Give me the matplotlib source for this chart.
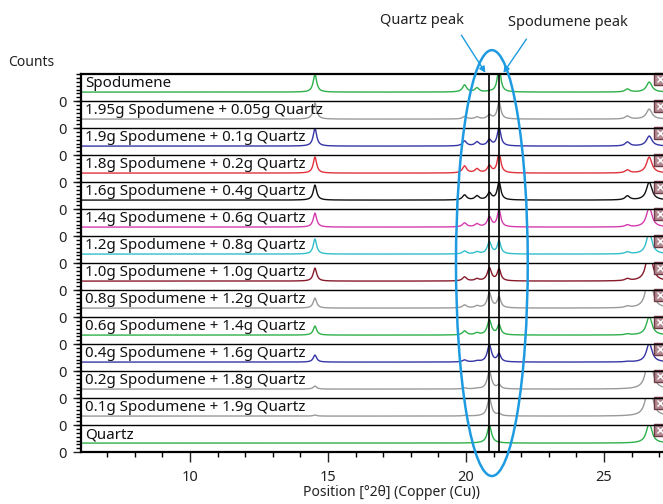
import matplotlib.pyplot as plt
import matplotlib.transforms as mtransforms
import numpy as np
from matplotlib.patches import Ellipse, FancyArrowPatch
from matplotlib.ticker import MultipleLocator, FixedLocator

plt.rcParams['font.family'] = ['Noto Sans', 'DejaVu Sans']

# --- sample patterns (top to bottom) ---
labels = [
    'Spodumene',
    '1.95g Spodumene + 0.05g Quartz',
    '1.9g Spodumene + 0.1g Quartz',
    '1.8g Spodumene + 0.2g Quartz',
    '1.6g Spodumene + 0.4g Quartz',
    '1.4g Spodumene + 0.6g Quartz',
    '1.2g Spodumene + 0.8g Quartz',
    '1.0g Spodumene + 1.0g Quartz',
    '0.8g Spodumene + 1.2g Quartz',
    '0.6g Spodumene + 1.4g Quartz',
    '0.4g Spodumene + 1.6g Quartz',
    '0.2g Spodumene + 1.8g Quartz',
    '0.1g Spodumene + 1.9g Quartz',
    'Quartz',
]
colors = ['#2eb04a', '#9a9a9a', '#3535a5', '#e0323c', '#111111', '#d43cae',
          '#30bfca', '#861a2a', '#9a9a9a', '#2eb04a', '#3535a5', '#9a9a9a',
          '#9a9a9a', '#2eb04a']

# peak positions [°2θ] and widths (FWHM)
peak_pos = [14.53, 19.95, 20.40, 20.85, 21.20, 25.85, 26.64]
peak_fwhm = [0.15, 0.18, 0.18, 0.18, 0.15, 0.20, 0.24]

# peak heights above baseline for each sample (panel = 27 units tall)
heights = [
    [18, 7, 4, 0.5, 25, 3, 10],
    [16, 2.5, 2, 4, 17, 3, 10],
    [18, 5, 4, 6, 19, 4, 10],
    [16, 7, 4, 7, 20, 3, 16],
    [15, 5, 4, 7, 18, 4, 18],
    [14, 4, 3, 10, 17, 2, 20],
    [15, 3, 2, 12, 13, 2, 22],
    [13, 4, 2, 13, 12, 2, 35],
    [10, 3, 2, 15, 11, 1.5, 40],
    [9, 4, 2, 15, 10, 1, 19],
    [7, 2, 1, 17, 8, 0.5, 19],
    [3, 1, 0.5, 18, 4, 0, 40],
    [1, 0.5, 0, 18, 2, 0, 40],
    [0, 0, 0, 18, 0, 0, 20],
]
baseline = 9
quartz_line = 20.83
spod_line = 21.20
xmin, xmax = 6.05, 27.14

fig = plt.figure(figsize=(6.63, 5.04), dpi=100)
left, right, top, bottom = 0.122, 1.0, 0.853, 0.103
n = len(labels)
ph = (top - bottom) / n
x = np.linspace(xmin, xmax, 3000)

axes = []
for i, (lab, col, hs) in enumerate(zip(labels, colors, heights)):
    ax = fig.add_axes([left, top - (i + 1) * ph, right - left, ph])
    y = np.full_like(x, baseline, dtype=float)
    for p, w, h in zip(peak_pos, peak_fwhm, hs):
        y += h / (1 + ((x - p) / (w / 2)) ** 2)
    ax.plot(x, y, color=col, lw=1)
    ax.axvline(quartz_line, color='black', lw=1.2)
    ax.axvline(spod_line, color='black', lw=1.2)
    ax.set_xlim(xmin, xmax)
    ax.set_ylim(0, 27)

    for s in ['right', 'bottom']:
        ax.spines[s].set_visible(False)
    ax.spines['left'].set_linewidth(1.6)
    ax.spines['top'].set_linewidth(1.6 if i == 0 else 1.0)

    ax.yaxis.set_major_locator(FixedLocator([0]))
    ax.yaxis.set_minor_locator(MultipleLocator(27 / 7))
    ax.set_yticklabels(['0'])
    ax.tick_params(axis='y', which='major', length=6, width=1, labelsize=10.5, pad=4, colors='#222222')
    ax.tick_params(axis='y', which='minor', length=3.5, width=1)
    ax.tick_params(axis='x', which='both', bottom=False, labelbottom=False)

    ax.text(0.007, 0.92, lab, transform=ax.transAxes, ha='left', va='top',
            fontsize=10.9, color='#111111')
    # small close icon at the right edge
    ax.plot([0.994], [0.8], marker='s', ms=8, mfc='#b48a92', mec='#6e3a46',
            transform=ax.transAxes, clip_on=False)
    ax.plot([0.994], [0.8], marker='x', ms=5, mew=1, color='white',
            transform=ax.transAxes, clip_on=False)
    axes.append(ax)

axb = axes[-1]
axb.spines['bottom'].set_visible(True)
axb.spines['bottom'].set_linewidth(1.6)
axb.xaxis.set_major_locator(FixedLocator([10, 15, 20, 25]))
axb.xaxis.set_minor_locator(MultipleLocator(1))
axb.tick_params(axis='x', which='major', bottom=True, labelbottom=True,
                length=7, width=1, labelsize=10.5, pad=6, colors='#222222')
axb.tick_params(axis='x', which='minor', bottom=True, length=3.5, width=1)

fig.text(0.012, 0.875, 'Counts', fontsize=10, color='#222222', ha='left', va='center')
fig.text(0.59, 0.022, 'Position [°2θ] (Copper (Cu))', fontsize=10, color='#222222',
         ha='center', va='center')

# annotation: ellipse and arrows
blend = mtransforms.blended_transform_factory(axb.transData, fig.transFigure)
blue = '#1e9be0'
fig.add_artist(Ellipse((20.94, 0.478), 2.6, 0.845, fill=False, ec=blue, lw=1.8,
                       transform=blend, zorder=10))
fig.add_artist(FancyArrowPatch((19.78, 0.935), (20.76, 0.851), transform=blend,
                               arrowstyle='-|>', mutation_scale=9, color=blue,
                               lw=1, zorder=10))
fig.add_artist(FancyArrowPatch((22.25, 0.927), (21.30, 0.851), transform=blend,
                               arrowstyle='-|>', mutation_scale=9, color=blue,
                               lw=1, zorder=10))
fig.text(18.41, 0.96, 'Quartz peak', transform=blend, fontsize=10.5,
         color='#222222', ha='center', va='center')
fig.text(23.70, 0.956, 'Spodumene peak', transform=blend, fontsize=10.5,
         color='#222222', ha='center', va='center')

fig.savefig('out.png', dpi=100)
plt.close(fig)
